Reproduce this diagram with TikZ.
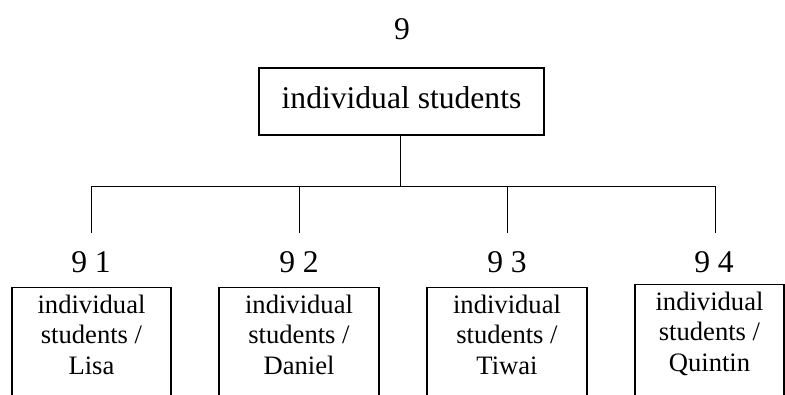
\documentclass[tikz,border=0pt]{standalone}
\usepackage{fontspec}
\setmainfont{Liberation Serif}
\begin{document}
\begin{tikzpicture}[x=1pt,y=-1pt,
  topbox/.style={draw, line width=1.3pt, minimum width=285pt, minimum height=67pt, inner sep=0pt,
    text height=20pt, text depth=7pt, font={\fontsize{31.6}{36}\selectfont}},
  childbox/.style={draw, line width=1.3pt, minimum width=159pt, minimum height=140pt, inner sep=0pt, anchor=north},
  childtext/.style={align=center, inner sep=0pt, anchor=north, font={\fontsize{26.6}{30.6}\selectfont}},
  numlabel/.style={anchor=base, inner sep=0pt, font={\fontsize{31.6}{36}\selectfont}},
  conn/.style={line width=0.8pt}]
\clip (0,0) rectangle (785,394);
\node[numlabel] (n0) at (402,39) {9};
\node[topbox] (top) at (401.5,101.5) {individual students};
\coordinate (j) at (400,186);
\foreach \i/\x/\y/\w/\name in {1/91.5/287/159/Lisa, 2/299/287/160/Daniel, 3/507/287/160/Tiwai, 4/709.5/284/149/Quintin}{
  \node[childbox, minimum width=\w pt] (c\i) at (\x,\y) {};
  \node[childtext] (ct\i) at (\x,\y+7.5) {individual\\students /\\\name};
}
\node[numlabel] (n1) at (91,272) {9 1};
\node[numlabel] (n2) at (299,272) {9 2};
\node[numlabel] (n3) at (507,272) {9 3};
\node[numlabel] (n4) at (714,272) {9 4};
\coordinate (t1) at (91,233);
\coordinate (t2) at (299,233);
\coordinate (t3) at (507,233);
\coordinate (t4) at (715,233);
\draw[conn] (top.south -| j) -- (j);
\draw[conn] (t1) -- (t1 |- j) -- (t4 |- j) -- (t4);
\draw[conn] (t2) -- (t2 |- j);
\draw[conn] (t3) -- (t3 |- j);
\end{tikzpicture}
\end{document}
